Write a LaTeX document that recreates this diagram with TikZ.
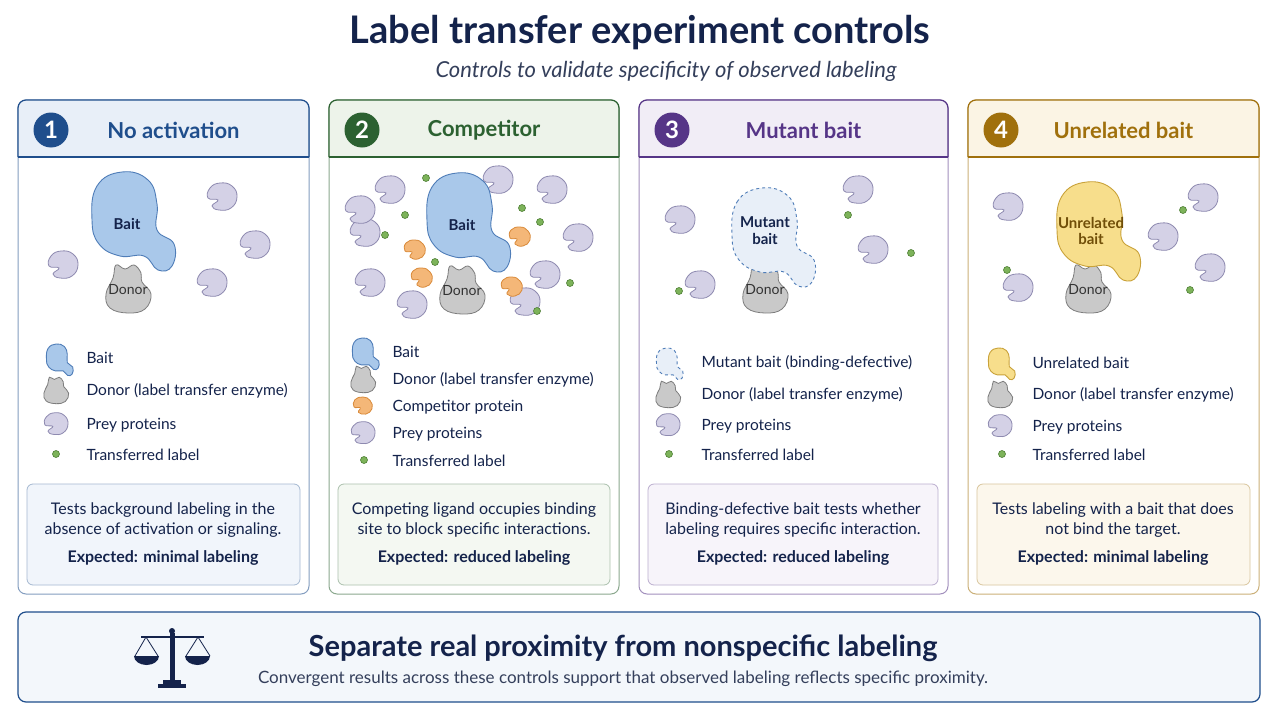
\documentclass[tikz,border=0pt]{standalone}
\usepackage{fontspec}
\setmainfont{Lato}
\usetikzlibrary{positioning}
\definecolor{navy}{HTML}{14234B}
\definecolor{cblue}{HTML}{1F4E8C}
\definecolor{cgreen}{HTML}{2C6131}
\definecolor{cpurple}{HTML}{563587}
\definecolor{cgold}{HTML}{A0700C}
\definecolor{lblue}{HTML}{E8EFF8}
\definecolor{lgreen}{HTML}{EDF3EA}
\definecolor{lpurple}{HTML}{F1EDF6}
\definecolor{lgold}{HTML}{FBF4E4}
\definecolor{baitfill}{HTML}{A9C8EA}
\definecolor{baitline}{HTML}{4F7DB8}
\definecolor{preyfill}{HTML}{D4D1E6}
\definecolor{preyline}{HTML}{8E8AB0}
\definecolor{donorfill}{HTML}{C9C9C9}
\definecolor{donorline}{HTML}{7D7D7D}
\definecolor{compfill}{HTML}{F4B778}
\definecolor{compline}{HTML}{D98A3A}
\definecolor{dotfill}{HTML}{7DB35A}
\definecolor{dotline}{HTML}{4E7F35}
\definecolor{unrfill}{HTML}{F7DE8C}
\definecolor{unrline}{HTML}{C9A23A}
\newcommand{\fs}[1]{\fontsize{#1}{\fpeval{#1*1.25}}\selectfont}
\tikzset{
  panel/.style={draw=#1, line width=1pt, rounded corners=8pt, fill=white},
  descbox/.style={draw=#1, line width=0.8pt, rounded corners=6pt},
  legtext/.style={anchor=west, font=\fs{15.5}, text=navy},
  desctext/.style={align=center, font=\fs{16}, text=navy},
  prey/.pic={\draw[fill=preyfill, draw=preyline, line width=0.8pt]
    plot[smooth cycle, tension=0.8] coordinates {(-12,-9) (-2,-14) (10,-11) (15,0) (9,11) (-3,13) (-10,9) (-4,3) (-14,1)};},
  comp/.pic={\draw[fill=compfill, draw=compline, line width=0.8pt]
    plot[smooth cycle, tension=0.8] coordinates {(-9,-7) (0,-10) (8,-6) (10,3) (3,9) (-5,7) (-3,2) (-10,1)};},
  donor/.pic={\draw[fill=donorfill, draw=donorline, line width=0.8pt]
    plot[smooth cycle, tension=0.7] coordinates {(-22,4) (-15,-12) (-12,-25) (-3,-21) (6,-25) (13,-17) (14,-8) (23,4) (17,19) (0,23) (-18,18)};},
  bait/.pic={\draw[line width=0.9pt, pic actions]
    plot[smooth cycle, tension=0.75] coordinates {(-36,-2) (-31,-36) (-6,-50) (20,-42) (29,-18) (29,8) (46,22) (44,44) (30,48) (16,34) (-8,34) (-29,22)};},
  ldot/.style={circle, fill=dotfill, draw=dotline, line width=0.6pt, inner sep=0pt, minimum size=7pt}
}
\begin{document}
\begin{tikzpicture}[x=1pt,y=-1pt]
\useasboundingbox (0,0) rectangle (1280,720);
\fill[white] (0,0) rectangle (1280,720);
% title
\node[font=\bfseries\fs{38}, text=navy] (title) at (640,33) {Label transfer experiment controls};
\node[font=\itshape\fs{22}, text=navy!70!gray] (subtitle) at (666,71) {Controls to validate specificity of observed labeling};
% panels
\foreach \x/\w/\c/\l/\n/\t in {18/291/cblue/lblue/1/No activation, 329/290/cgreen/lgreen/2/Competitor, 639/309/cpurple/lpurple/3/Mutant bait, 968/291/cgold/lgold/4/Unrelated bait}{
  \draw[panel=\c!55] (\x,100) rectangle ++(\w,494);
  \begin{scope}
    \clip[rounded corners=8pt] (\x,100) rectangle ++(\w,100);
    \fill[\l] (\x,100) rectangle ++(\w,57);
  \end{scope}
  \draw[\c, line width=1.2pt, rounded corners=8pt] (\x,157) -- (\x,100) -- ++(\w,0) -- ++(0,57);
  \draw[\c, line width=1.2pt] (\x,157) -- ++(\w,0);
  \node[circle, fill=\c, minimum size=35pt, inner sep=0pt, text=white, font=\bfseries\fs{24}] (num\n) at (\x+33,130) {\n};
  \node[font=\bfseries\fs{22}, text=\c] (head\n) at (\x+\w/2+10,130) {\t};
}
% panel 1 scene
\pic at (63,265) {prey}; \pic at (222,197) {prey}; \pic at (255,245) {prey}; \pic at (212,283) {prey};
\pic at (128,290) {donor};
\pic[fill=baitfill, draw=baitline] at (128,222) {bait};
\node[font=\bfseries\fs{15}, text=navy] (bait1) at (127,224) {Bait};
\node[font=\fs{14}, text=black!80] (donor1) at (128,290) {Donor};
% panel 1 legend
\pic[fill=baitfill, draw=baitline, scale=0.32] at (58,360) {bait};
\node[legtext] (l1a) at (83,358) {Bait};
\pic[scale=0.55] at (56,391) {donor};
\node[legtext] (l1b) at (83,391) {Donor (label transfer enzyme)};
\pic[scale=0.8] at (56,424) {prey};
\node[legtext] (l1c) at (83,425) {Prey proteins};
\node[ldot] (d1) at (56,454) {};
\node[legtext] (l1d) at (83,455) {Transferred label};
\draw[descbox=cblue!40, fill=lblue!60] (27,484) rectangle (300,585);
\node[desctext] (desc1) at (163,520) {Tests background labeling in the\\absence of activation or signaling.};
\node[desctext, font=\bfseries\fs{16}] (exp1) at (163,558) {Expected: minimal labeling};
% panel 2 scene
\foreach \p in {(390,190),(365,233),(370,283),(412,305),(498,180),(552,190),(578,238),(545,275),(525,302),(360,210)}
  \pic at \p {prey};
\foreach \p in {(415,250),(520,237),(422,278),(512,287)}
  \pic at \p {comp};
\foreach \p in {(426,178),(405,215),(385,235),(522,208),(540,222),(570,283),(537,311),(435,262)}
  \node[ldot] at \p {};
\pic at (462,291) {donor};
\pic[fill=baitfill, draw=baitline] at (463,223) {bait};
\node[font=\bfseries\fs{15}, text=navy] (bait2) at (462,225) {Bait};
\node[font=\fs{14}, text=black!80] (donor2) at (462,291) {Donor};
% panel 2 legend
\pic[fill=baitfill, draw=baitline, scale=0.32] at (364,354) {bait};
\node[legtext] (l2a) at (389,352) {Bait};
\pic[scale=0.55] at (363,380) {donor};
\node[legtext] (l2b) at (389,380) {Donor (label transfer enzyme)};
\pic[scale=0.9] at (363,406) {comp};
\node[legtext] (l2c) at (389,407) {Competitor protein};
\pic[scale=0.8] at (363,433) {prey};
\node[legtext] (l2d) at (389,434) {Prey proteins};
\node[ldot] (d2) at (364,460) {};
\node[legtext] (l2e) at (389,461) {Transferred label};
\draw[descbox=cgreen!40, fill=lgreen!60] (338,484) rectangle (610,585);
\node[desctext] (desc2) at (474,520) {Competing ligand occupies binding\\site to block specific interactions.};
\node[desctext, font=\bfseries\fs{16}] (exp2) at (474,558) {Expected: reduced labeling};
% panel 3 scene
\foreach \p in {(680,220),(700,285),(858,190),(873,250)}
  \pic at \p {prey};
\foreach \p in {(679,291),(848,215),(911,253)}
  \node[ldot] at \p {};
\pic at (765,290) {donor};
\pic[fill=lblue, draw=baitline, dashed] at (768,238) {bait};
\node[font=\bfseries\fs{15}, text=navy, align=center] (bait3) at (765,231) {Mutant\\[-2pt]bait};
\node[font=\fs{14}, text=black!80] (donor3) at (765,290) {Donor};
% panel 3 legend
\pic[fill=lblue, draw=baitline, dashed, scale=0.32] at (668,364) {bait};
\node[legtext] (l3a) at (698,363) {Mutant bait (binding-defective)};
\pic[scale=0.55] at (668,395) {donor};
\node[legtext] (l3b) at (698,395) {Donor (label transfer enzyme)};
\pic[scale=0.8] at (668,425) {prey};
\node[legtext] (l3c) at (698,426) {Prey proteins};
\node[ldot] (d3) at (669,454) {};
\node[legtext] (l3d) at (698,455) {Transferred label};
\draw[descbox=cpurple!40, fill=lpurple!60] (648,484) rectangle (938,585);
\node[desctext] (desc3) at (793,520) {Binding-defective bait tests whether\\labeling requires specific interaction.};
\node[desctext, font=\bfseries\fs{16}] (exp3) at (793,558) {Expected: reduced labeling};
% panel 4 scene
\foreach \p in {(1008,207),(1018,288),(1163,237),(1203,198),(1210,268)}
  \pic at \p {prey};
\foreach \p in {(1007,270),(1183,210),(1190,290)}
  \node[ldot] at \p {};
\pic at (1088,290) {donor};
\pic[fill=unrfill, draw=unrline] at (1093,232) {bait};
\node[font=\bfseries\fs{15}, text=cgold!70!black, align=center] (bait4) at (1091,231) {Unrelated\\[-2pt]bait};
\node[font=\fs{14}, text=black!80] (donor4) at (1088,290) {Donor};
% panel 4 legend
\pic[fill=unrfill, draw=unrline, scale=0.32] at (1000,364) {bait};
\node[legtext] (l4a) at (1029,363) {Unrelated bait};
\pic[scale=0.55] at (1000,395) {donor};
\node[legtext] (l4b) at (1029,395) {Donor (label transfer enzyme)};
\pic[scale=0.8] at (1000,426) {prey};
\node[legtext] (l4c) at (1029,427) {Prey proteins};
\node[ldot] (d4) at (1002,454) {};
\node[legtext] (l4d) at (1029,455) {Transferred label};
\draw[descbox=cgold!40, fill=lgold!70] (977,484) rectangle (1250,585);
\node[desctext] (desc4) at (1113,520) {Tests labeling with a bait that does\\not bind the target.};
\node[desctext, font=\bfseries\fs{16}] (exp4) at (1113,558) {Expected: minimal labeling};
% banner
\draw[cblue, line width=1.2pt, fill=lblue!50, rounded corners=8pt] (18,612) rectangle (1260,702);
\node[font=\bfseries\fs{29}, text=navy] (btitle) at (623,648) {Separate real proximity from nonspecific labeling};
\node[font=\fs{17}, text=navy!70!gray] (bsub) at (623,679) {Convergent results across these controls support that observed labeling reflects specific proximity.};
% scales icon
\begin{scope}[navy, line width=1.6pt]
  \fill (172,631) circle (3);
  \fill (169.5,633) rectangle (174.5,684);
  \draw (141,637) -- (204,637);
  \fill (158,684) rectangle (186,688);
  \fill (163,680) rectangle (181,684);
  \draw[line width=0.8pt] (146,637) -- (135,656) (146,637) -- (158,656) (198,637) -- (186,656) (198,637) -- (210,656);
  \fill (134,656) arc[start angle=180, end angle=360, x radius=12.5, y radius=-9] -- cycle;
  \fill (185,656) arc[start angle=180, end angle=360, x radius=12.5, y radius=-9] -- cycle;
\end{scope}
\end{tikzpicture}
\end{document}
